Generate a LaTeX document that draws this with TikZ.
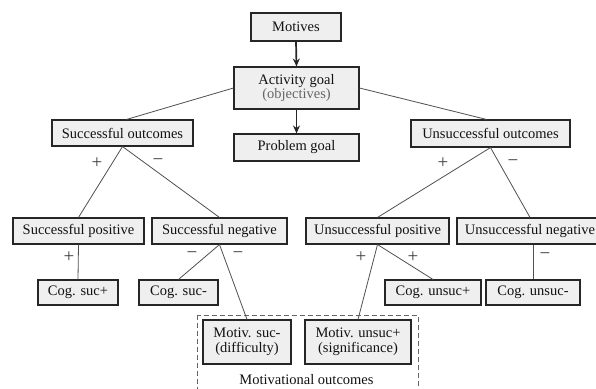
\documentclass[tikz,border=0pt]{standalone}
\usepackage{fontspec}
\setmainfont{Liberation Serif}
\usetikzlibrary{arrows.meta,calc}
\definecolor{boxfill}{HTML}{EFEFEF}
\definecolor{txt}{HTML}{111111}
\definecolor{lnk}{HTML}{505050}
\begin{document}
\begin{tikzpicture}[x=1pt,y=-1pt,
  every node/.style={font=\fontsize{14.5}{16.5}\selectfont, text=txt},
  bx/.style={draw=black!85, line width=1.1pt, fill=boxfill, inner sep=0pt, align=center},
  link/.style={draw=lnk, line width=0.8pt},
  sign/.style={inner sep=0pt, text=black!75, font=\fontsize{19}{20}\selectfont},
  harrow/.style={draw=black!85, line width=1.7pt, -{Stealth[length=8pt,width=7pt]}}]
\clip (0,0) rectangle (596,388);
\fill[white] (0,0) rectangle (596,388);
% dashed group
\draw[dashed, draw=black!60, line width=0.8pt, dash pattern=on 5pt off 3pt] (197,315) rectangle (418,400);
\node (mo) at (306.5,380) {Motivational outcomes};
% boxes
\node[bx, minimum width=90, minimum height=28] (mot) at (296,27) {Motives};
\node[bx, minimum width=125, minimum height=42] (act) at (296.5,88) {Activity goal\\[-2pt]{\color{black!60}(objectives)}};
\node[bx, minimum width=125, minimum height=27] (pg) at (296.5,147.5) {Problem goal};
\node[bx, minimum width=141, minimum height=26] (so) at (122.5,133) {Successful outcomes};
\node[bx, minimum width=159, minimum height=27] (uo) at (490.5,133.5) {Unsuccessful outcomes};
\node[bx, minimum width=131, minimum height=26] (sp) at (78.5,231) {Successful positive};
\node[bx, minimum width=135, minimum height=26] (sn) at (219.5,231) {Successful negative};
\node[bx, minimum width=143, minimum height=26] (up) at (377.5,231) {Unsuccessful positive};
\node[bx, minimum width=146, minimum height=26] (un) at (530,231) {Unsuccessful negative};
\node[bx, minimum width=80, minimum height=25] (csp) at (78,292.5) {Cog. suc+};
\node[bx, minimum width=79, minimum height=25] (csn) at (178.5,292.5) {Cog. suc-};
\node[bx, minimum width=96, minimum height=25] (cup) at (433,292.5) {Cog. unsuc+};
\node[bx, minimum width=94, minimum height=25] (cun) at (533,292.5) {Cog. unsuc-};
\node[bx, minimum width=88, minimum height=44] (msn) at (247,342) {Motiv. suc-\\[-2pt](difficulty)};
\node[bx, minimum width=106, minimum height=44] (mup) at (358,342) {Motiv. unsuc+\\[-2pt](significance)};
% arrows
\draw[harrow] (mot.south) -- (act.north);
\draw[harrow] (act.south) -- (pg.north);
% links
\draw[link] (act.west) -- ($(so.north)+(4,0)$);
\draw[link] (act.east) -- ($(uo.north)+(-4,0)$);
\draw[link] (so.south) -- (sp.north);
\draw[link] (so.south) -- (sn.north);
\draw[link] (uo.south) -- (up.north);
\draw[link] (uo.south) -- (un.north);
\draw[link] (sp.south) -- (csp.north);
\draw[link] (sn.south) -- (csn.north);
\draw[link] (sn.south) -- (msn.north);
\draw[link] (up.south) -- (cup.north);
\draw[link] (up.south) -- (mup.north);
\draw[link] ($(un.south)+(3,0)$) -- (cun.north);
% signs
\node[sign] (s1) at (97,163) {+};
\node[sign] (s2) at (158,162) {\textminus};
\node[sign] (s3) at (69,257) {+};
\node[sign] (s4) at (192,255) {\textminus};
\node[sign] (s5) at (238,255) {\textminus};
\node[sign] (s6) at (361,257) {+};
\node[sign] (s7) at (413,257) {+};
\node[sign] (s8) at (443,163) {+};
\node[sign] (s9) at (513,163) {\textminus};
\node[sign] (s10) at (545,256) {\textminus};
\end{tikzpicture}
\end{document}
